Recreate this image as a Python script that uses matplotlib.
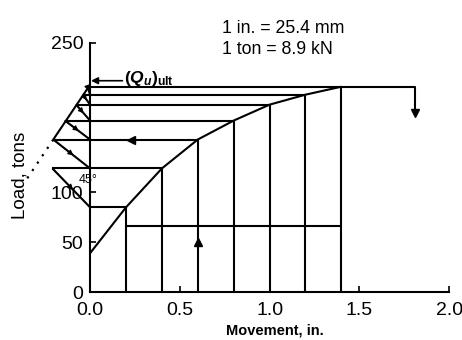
import matplotlib.pyplot as plt

plt.rcParams['font.family'] = ['Liberation Sans', 'DejaVu Sans']
plt.rcParams['mathtext.fontset'] = 'custom'
plt.rcParams['mathtext.it'] = 'Liberation Sans:italic:bold'
plt.rcParams['mathtext.rm'] = 'Liberation Sans:bold'

# -------------------------
# Data
# -------------------------
movement = [0.0, 0.2, 0.4, 0.6, 0.8, 1.0, 1.2, 1.4]      # in.
load = [39, 85, 124, 153, 172, 188, 198, 206]              # tons

# left ends of the construction lines for the 0.4 ... 1.4 in. levels
construct_x = [-0.21, -0.205, -0.14, -0.078, -0.04, -0.015]
q_ult = 208            # intersection of construction line with load axis
q_ult_arrow = 212
dotted_to_load = 114   # dotted extension of construction line

lower_level = 66       # lower horizontal line
top_end = 1.81         # top line extended to the right
top_drop = 180

xticks = [0.0, 0.5, 1.0, 1.5, 2.0]
yticks = [0, 50, 100, 250]

# -------------------------
# Plot
# -------------------------
fig = plt.figure(figsize=(4.62, 3.4), dpi=100)
ax = fig.add_axes([0.195, 0.141, 0.777, 0.733])

lw = 1.5
kw = dict(color='k', lw=lw, clip_on=False, solid_capstyle='butt')

# load-movement curve
ax.plot(movement, load, **kw)

# verticals up to the curve
for m, q in zip(movement[1:], load[1:]):
    ax.plot([m, m], [0, q], **kw)

# first horizontal (0.2 in. level) to the load axis
ax.plot([0, movement[1]], [load[1], load[1]], **kw)

# horizontals + 45 deg lines for the following levels
for i, cx in enumerate(construct_x):
    lev = i + 2
    ax.plot([cx, movement[lev]], [load[lev], load[lev]], **kw)
    ax.plot([cx, 0], [load[lev], load[lev - 1]], **kw)
    mid = (cx * 0.45, load[lev] - 0.55 * (load[lev] - load[lev - 1]))
    ax.annotate('', xy=mid, xytext=(cx, load[lev]), annotation_clip=False,
                arrowprops=dict(arrowstyle='-|>', color='k', lw=0.8,
                                mutation_scale=8, shrinkA=0, shrinkB=0))

# straight construction line through the points -> (Qu)ult
x0, q0 = construct_x[1], load[3]
ax.plot([x0, 0], [q0, q_ult], **kw)
slope = (q_ult - q0) / (0 - x0)
ax.plot([x0, x0 - (q0 - dotted_to_load) / slope], [q0, dotted_to_load],
        color='k', lw=1.6, ls=(0, (1, 3)), clip_on=False)

# top line extended and dropped
ax.plot([movement[-1], top_end, top_end], [load[-1], load[-1], top_drop], **kw)
ax.plot(top_end, top_drop, marker='v', color='k', ms=6, clip_on=False)

# lower horizontal
ax.plot([movement[1], movement[-1]], [lower_level, lower_level], **kw)

# arrows on lines
ax.plot(movement[3], 50, marker='^', color='k', ms=6)
ax.plot(0.23, load[3], marker='<', color='k', ms=6)

# (Qu)ult arrow + label
ax.annotate('', xy=(0.005, q_ult_arrow), xytext=(0.18, q_ult_arrow),
            arrowprops=dict(arrowstyle='-|>', color='k', lw=1.2,
                            mutation_scale=10, shrinkA=0, shrinkB=0))
ax.text(0.19, q_ult_arrow + 2, r'$(Q_u)_{\rm ult}$', fontsize=12.5,
        ha='left', va='center')
ax.text(-0.065, 112, '45°', fontsize=9, ha='left', va='center')

# Formatting
ax.set_xlim(0, 2.0)
ax.set_ylim(0, 250)
ax.set_xticks(xticks)
ax.set_xticklabels([f'{t:.1f}' for t in xticks])
ax.set_yticks(yticks)
ax.spines[['top', 'right']].set_visible(False)
for s in ['left', 'bottom']:
    ax.spines[s].set_linewidth(lw)
ax.tick_params(direction='in', length=4, width=1.2, labelsize=14)
ax.tick_params(axis='y', pad=5)
ax.tick_params(axis='x', pad=7)

fig.text(0.595, 0.029, 'Movement, in.', fontsize=10.5, fontweight='bold',
         ha='center', va='center')
fig.text(0.043, 0.485, 'Load, tons', fontsize=13.5, rotation=90,
         ha='center', va='center')
fig.text(0.48, 0.915, '1 in. = 25.4 mm', fontsize=12.8, ha='left', va='center')
fig.text(0.48, 0.853, '1 ton = 8.9 kN', fontsize=12.8, ha='left', va='center')

plt.savefig('out.png', dpi=100)
